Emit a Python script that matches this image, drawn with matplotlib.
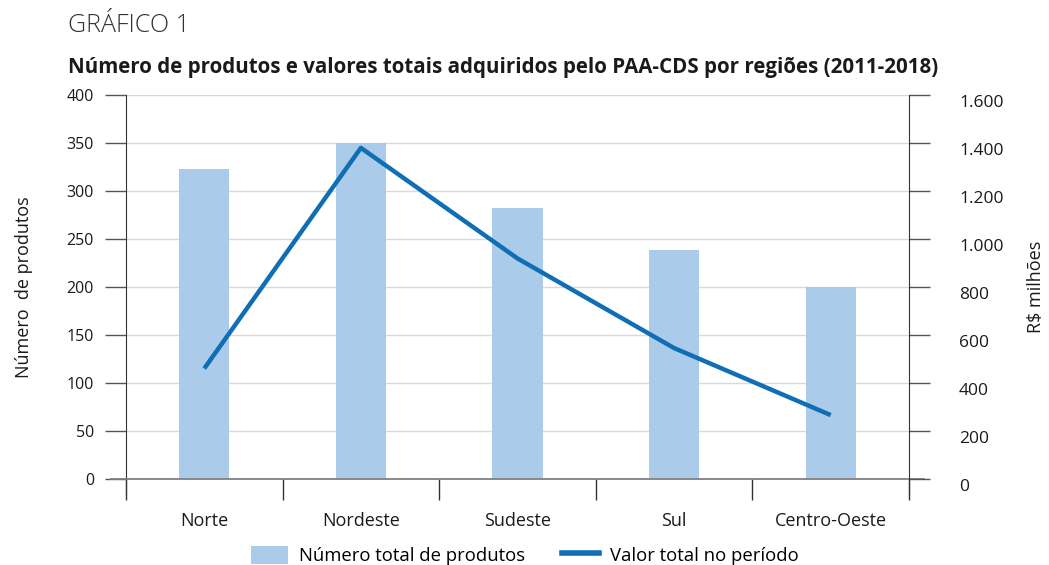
import matplotlib
matplotlib.use("Agg")
import matplotlib.pyplot as plt
import matplotlib.transforms as mtransforms
from matplotlib.ticker import FuncFormatter, FixedLocator
from matplotlib.patches import Patch
from matplotlib.lines import Line2D
import numpy as np

plt.rcParams['font.family'] = ['Open Sans', 'DejaVu Sans']

# data
regioes = ["Norte", "Nordeste", "Sudeste", "Sul", "Centro-Oeste"]
num_produtos = [322, 350, 282, 238, 200]
valor_total = [460, 1378, 918, 545, 266]

BAR_COLOR = "#ABCBEA"
LINE_COLOR = "#0F6EB4"
TXT = "#1a1a1a"

fig = plt.figure(figsize=(10.49, 5.65), dpi=100)
ax = fig.add_axes([0.1201, 0.1522, 0.7464, 0.6805])
ax2 = ax.twinx()

x = np.arange(len(regioes))
ax.bar(x, num_produtos, width=0.32, color=BAR_COLOR, zorder=2)
ax2.plot(x, valor_total, color=LINE_COLOR, lw=3.2, solid_capstyle="butt", zorder=3)

ax.set_xlim(-0.5, len(regioes) - 0.5)
ax.set_ylim(0, 400)
ax2.set_ylim(0, 1600)
ax.set_yticks(np.arange(0, 401, 50))
ax2.set_yticks(np.arange(0, 1601, 200))
ax2.yaxis.set_major_formatter(FuncFormatter(lambda v, p: f"{int(v):,}".replace(",", ".")))

# gridlines
for v in np.arange(50, 401, 50):
    ax.axhline(v, color="#d9d9d9", lw=1, zorder=0)
ax.plot([-0.5 - 0.098, len(regioes) - 0.5 + 0.098], [0, 0], color="#808080", lw=1.3,
        clip_on=False, zorder=4)

for a in (ax, ax2):
    for s in ("top", "bottom"):
        a.spines[s].set_visible(False)
ax.spines["left"].set_color("#333333")
ax2.spines["right"].set_color("#333333")
ax2.spines["left"].set_visible(False)
ax.spines["right"].set_visible(False)
ax.spines["left"].set_bounds(-16, 400)
ax2.spines["right"].set_bounds(-64, 1600)

ax.tick_params(axis="y", direction="out", length=15, width=1, color="#555555",
               labelsize=11.5, labelcolor=TXT, pad=8)
ax2.tick_params(axis="y", direction="out", length=15, width=1, color="#555555",
                labelsize=12.5, labelcolor=TXT, pad=21)
for lbl in ax2.get_yticklabels():
    lbl.set_transform(lbl.get_transform() + mtransforms.ScaledTranslation(0, -6 / 100, fig.dpi_scale_trans))

# category ticks
ax.set_xticks(x)
ax.set_xticklabels(regioes)
ax.tick_params(axis="x", which="major", length=0, pad=24, labelsize=13, labelcolor=TXT)
ax.xaxis.set_minor_locator(FixedLocator(np.arange(-0.5, len(regioes), 1.0)))
ax.tick_params(axis="x", which="minor", length=15, width=1, color="#333333", direction="out")

ax.set_ylabel("Número  de produtos", fontsize=13, color=TXT, labelpad=24)
ax2.set_ylabel("R$ milhões", fontsize=13, color=TXT, labelpad=17)

fig.text(0.065, 0.955, "GRÁFICO 1", fontsize=18, color="#333333", fontweight="light",
         va="center")
fig.text(0.065, 0.881, "Número de produtos e valores totais adquiridos pelo PAA-CDS por regiões (2011-2018)",
         fontsize=14.8, fontweight="bold", color=TXT, va="center")

handles = [Patch(facecolor=BAR_COLOR, edgecolor="none"),
           Line2D([0], [0], color=LINE_COLOR, lw=4)]
fig.legend(handles, ["Número total de produtos", "Valor total no período"],
           loc="center", bbox_to_anchor=(0.5, 0.017), ncol=2, frameon=False,
           fontsize=13.3, handlelength=2.0, handleheight=1.1, columnspacing=2.0,
           handletextpad=0.6, borderpad=0.1)

fig.savefig("out.png", dpi=100)
